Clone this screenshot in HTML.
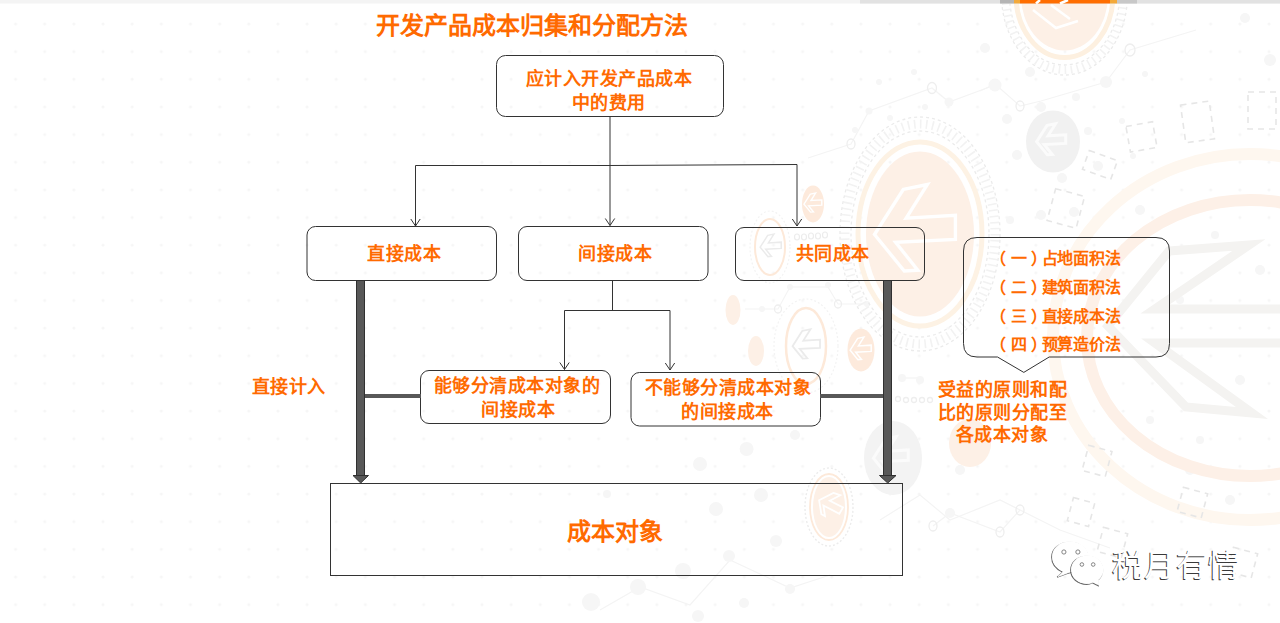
<!DOCTYPE html>
<html lang="zh-CN">
<head>
<meta charset="utf-8">
<style>
html,body{margin:0;padding:0;}
body{width:1280px;height:623px;overflow:hidden;background:#fff;position:relative;font-family:"Liberation Sans",sans-serif;}
#bg{position:absolute;left:0;top:0;}
.c{font-size:16px;}
.t{position:absolute;text-spacing-trim:space-all;color:#ff6a00;font-weight:bold;white-space:nowrap;line-height:1;}
</style>
</head>
<body>
<svg id="bg" width="1280" height="623" viewBox="0 0 1280 623">
  <defs>
    <pattern id="dots" x="1.0" y="10.08" width="29.15" height="27.65" patternUnits="userSpaceOnUse">
      <circle cx="14.575" cy="13.825" r="1.5" fill="#f6f6f6"/>
    </pattern>
  </defs>
  <rect x="0" y="0" width="1280" height="623" fill="url(#dots)"/>
  <!-- network lines -->
  <g stroke="#f4f4f4" stroke-width="1.2" fill="none">
    <path d="M808 158L851 144L869 111L932 88L949 102L995 85"/>
    <path d="M980 91L995 84L1020 106L1041 101L1106 82L1130 50L1196 30"/>
    <path d="M745 309H778L790 287H828L838 304H870"/>
    <path d="M902 378H920"/>
    <path d="M880 520L920 495L950 520L1000 500L1020 510"/>
    <path d="M600 610L640 587L690 605L730 560L790 588L830 575"/>
    <path d="M933 526L950 513L1000 532L1020 510L1060 530L1110 548"/>
  </g>
  <g fill="none" stroke="#eeeeee" stroke-width="1.3">
    <ellipse cx="851" cy="144" rx="4" ry="5"/><ellipse cx="932" cy="88" rx="4.5" ry="5.5"/>
    <ellipse cx="1020" cy="106" rx="4" ry="5"/><ellipse cx="1130" cy="50" rx="5" ry="6"/>
    <ellipse cx="778" cy="309" rx="3.5" ry="4"/><ellipse cx="838" cy="304" rx="3.5" ry="4"/>
    <ellipse cx="933" cy="526" rx="4" ry="5"/><ellipse cx="1000" cy="532" rx="4" ry="5"/><ellipse cx="1020" cy="510" rx="4" ry="5"/>
    <circle cx="898" cy="399" r="2.5"/><circle cx="906" cy="400" r="2.5"/><circle cx="914" cy="400" r="2.5"/><circle cx="922" cy="400" r="2.5"/><circle cx="930" cy="400" r="2.5"/>
  </g>
  <g fill="#f6f6f6">
    <circle cx="869" cy="111" r="3.5"/><circle cx="949" cy="102" r="4.5"/><circle cx="995" cy="85" r="6.5"/>
    <circle cx="1106" cy="82" r="6"/><circle cx="985" cy="48" r="5"/><circle cx="1030" cy="72" r="5"/>
    <circle cx="1041" cy="107" r="5"/><circle cx="1076" cy="97" r="4"/><circle cx="1007" cy="119" r="5"/>
    <circle cx="1017" cy="155" r="5"/><circle cx="1062" cy="178" r="5"/><circle cx="1088" cy="131" r="4"/>
    <circle cx="1122" cy="121" r="3"/><circle cx="1145" cy="74" r="3"/><circle cx="1041" cy="215" r="5"/>
    <circle cx="1010" cy="220" r="4"/><circle cx="1074" cy="212" r="5"/><circle cx="1133" cy="156" r="3"/>
    <circle cx="1098" cy="166" r="5"/><circle cx="914" cy="72" r="3"/><circle cx="879" cy="82" r="3"/>
    <circle cx="890" cy="118" r="3"/><circle cx="925" cy="107" r="3"/><circle cx="855" cy="130" r="3"/>
    <circle cx="762" cy="309" r="3"/><circle cx="790" cy="287" r="3"/><circle cx="828" cy="285" r="3"/><circle cx="867" cy="304" r="3"/>
    <circle cx="902" cy="378" r="4"/><circle cx="920" cy="380" r="4"/>
    <circle cx="700" cy="464" r="7"/><circle cx="746.6" cy="449" r="7"/><circle cx="795" cy="435" r="5"/>
    <circle cx="716" cy="509" r="7"/><circle cx="761" cy="495" r="7"/><circle cx="638" cy="587" r="8"/><circle cx="744" cy="603" r="5"/><circle cx="698" cy="616" r="6"/><circle cx="607" cy="494" r="4"/>
    <circle cx="591" cy="602" r="9"/><circle cx="683" cy="571" r="8"/><circle cx="790" cy="589" r="5"/>
    <circle cx="729" cy="556" r="6"/><circle cx="776" cy="541" r="6"/><circle cx="960" cy="470" r="5"/>
    <circle cx="950" cy="513" r="5"/><circle cx="1190" cy="470" r="5"/><circle cx="1240" cy="380" r="5"/>
    <circle cx="1180" cy="300" r="4"/><circle cx="1140" cy="210" r="5"/><circle cx="1270" cy="60" r="6"/>
    <circle cx="1245" cy="18" r="5"/><circle cx="1215" cy="235" r="4"/><circle cx="1260" cy="270" r="5"/>
    <circle cx="1200" cy="440" r="4"/><circle cx="1230" cy="500" r="5"/><circle cx="1150" cy="420" r="4"/>
  </g>
  <!-- big ring lower right -->
  <ellipse cx="1250" cy="337" rx="197" ry="183" fill="none" stroke="#fef7ef" stroke-width="12"/>
  <ellipse cx="1250" cy="338" rx="163" ry="138" fill="none" stroke="#fdf0e7" stroke-width="12"/>
  <path d="M1169 251L1249 245L1155 309H1290V343H1155L1252 413L1186 407L1108 326Z" fill="none" stroke="#f4f3f1" stroke-width="9" stroke-linejoin="miter"/>
  <!-- ellipse A big peach -->
  <g>
    <ellipse cx="920" cy="234" rx="69" ry="103" fill="none" stroke="#ebebeb" stroke-width="1.3" stroke-dasharray="3 3"/>
    <ellipse cx="920" cy="234" rx="75" ry="110" fill="none" stroke="#f2f2f2" stroke-width="9" stroke-dasharray="1.6 4.5"/>
    <ellipse cx="920" cy="234" rx="80" ry="117" fill="none" stroke="#ebebeb" stroke-width="1.3" stroke-dasharray="3 3"/>
    <ellipse cx="920" cy="234" rx="62" ry="92" fill="none" stroke="#fdf2e4" stroke-width="5"/>
    <ellipse cx="920" cy="234" rx="54" ry="82.5" fill="#fdf0e6"/>
    <path d="M-16.6 -44.7L7.4 -49.5L-13.8 -15.8L35.4 -18.7L35.4 5.4L-24.4 8.3L-2.2 36.2L-15.7 37L-45.5 0.5Z" transform="translate(920 234) scale(1)" fill="none" stroke="#fff" stroke-width="3.40" stroke-linejoin="miter"/>
  </g>
  <!-- ellipse B top peach -->
  <g>
    <ellipse cx="1064.5" cy="-5" rx="55" ry="70" fill="none" stroke="#ebebeb" stroke-width="1.3" stroke-dasharray="3 3"/>
    <ellipse cx="1064.5" cy="-5" rx="59" ry="75" fill="none" stroke="#f2f2f2" stroke-width="8" stroke-dasharray="1.6 4.5"/>
    <ellipse cx="1064.5" cy="-5" rx="63" ry="80" fill="none" stroke="#ebebeb" stroke-width="1.3" stroke-dasharray="3 3"/>
    <ellipse cx="1064.5" cy="-5" rx="48.5" ry="62.5" fill="none" stroke="#fdf0e0" stroke-width="5"/>
    <ellipse cx="1064.5" cy="-5" rx="43.5" ry="55.5" fill="#fdf0e6"/>
    <path d="M1033 10L1056 28L1078 21M1051 5L1070 19" fill="none" stroke="#fff" stroke-width="2.6"/>
  </g>
  <!-- gray ellipse C -->
  <ellipse cx="1053" cy="141.5" rx="27" ry="31" fill="#f1f1f1"/>
  <path d="M-16.6 -44.7L7.4 -49.5L-13.8 -15.8L35.4 -18.7L35.4 5.4L-24.4 8.3L-2.2 36.2L-15.7 37L-45.5 0.5Z" transform="translate(1053 141.5) scale(0.36)" fill="none" stroke="#fbfbfb" stroke-width="8.3" stroke-linejoin="miter"/>
  <!-- gray ellipse D -->
  <ellipse cx="893" cy="458" rx="29" ry="37" fill="#f3f3f3"/>
  <path d="M-16.6 -44.7L7.4 -49.5L-13.8 -15.8L35.4 -18.7L35.4 5.4L-24.4 8.3L-2.2 36.2L-15.7 37L-45.5 0.5Z" transform="translate(893 458) scale(0.43)" fill="none" stroke="#fbfbfb" stroke-width="7" stroke-linejoin="miter"/>
  <!-- small peach ellipses -->
  <ellipse cx="813" cy="204" rx="11" ry="18.5" fill="#fdeadc"/>
  <path d="M-16.6 -44.7L7.4 -49.5L-13.8 -15.8L35.4 -18.7L35.4 5.4L-24.4 8.3L-2.2 36.2L-15.7 37L-45.5 0.5Z" transform="translate(814 204) scale(0.22)" fill="none" stroke="#fff" stroke-width="6.36" stroke-linejoin="miter"/>
  <ellipse cx="733" cy="310" rx="7.5" ry="15" fill="#fdf0e6"/>
  <ellipse cx="756" cy="351" rx="8" ry="15" fill="#fdf0e6"/>
  <ellipse cx="861" cy="350" rx="13.5" ry="21.5" fill="#fdeadc"/>
  <path d="M-16.6 -44.7L7.4 -49.5L-13.8 -15.8L35.4 -18.7L35.4 5.4L-24.4 8.3L-2.2 36.2L-15.7 37L-45.5 0.5Z" transform="translate(862 350) scale(0.26)" fill="none" stroke="#fff" stroke-width="5.77" stroke-linejoin="miter"/>
  <!-- ring icons -->
  <ellipse cx="770" cy="247" rx="20" ry="36" fill="none" stroke="#f3f3f3" stroke-width="1.2" stroke-dasharray="2 2"/>
  <ellipse cx="770" cy="247" rx="15" ry="28" fill="none" stroke="#fde9d9" stroke-width="2"/>
  <path d="M-16.6 -44.7L7.4 -49.5L-13.8 -15.8L35.4 -18.7L35.4 5.4L-24.4 8.3L-2.2 36.2L-15.7 37L-45.5 0.5Z" transform="translate(772 247) scale(0.26)" fill="none" stroke="#ebebeb" stroke-width="5.77" stroke-linejoin="miter"/>
  <ellipse cx="806" cy="346" rx="32" ry="47" fill="none" stroke="#f3f3f3" stroke-width="1.2" stroke-dasharray="2 2"/>
  <ellipse cx="806" cy="346" rx="20" ry="38" fill="none" stroke="#fde9d9" stroke-width="2.5"/>
  <path d="M-16.6 -44.7L7.4 -49.5L-13.8 -15.8L35.4 -18.7L35.4 5.4L-24.4 8.3L-2.2 36.2L-15.7 37L-45.5 0.5Z" transform="translate(808 346) scale(0.34)" fill="none" stroke="#ebebeb" stroke-width="5.29" stroke-linejoin="miter"/>
  <!-- ellipse E in bottom box -->
  <ellipse cx="829" cy="507" rx="24" ry="39" fill="none" stroke="#ececec" stroke-width="1.4" stroke-dasharray="2 2"/>
  <ellipse cx="829" cy="507" rx="19" ry="33" fill="none" stroke="#fde9d9" stroke-width="1.8"/>
  <ellipse cx="829" cy="507" rx="16" ry="30" fill="#fdf0e6"/>
  <path d="M-16.6 -44.7L7.4 -49.5L-13.8 -15.8L35.4 -18.7L35.4 5.4L-24.4 8.3L-2.2 36.2L-15.7 37L-45.5 0.5Z" transform="translate(831 507) rotate(30) scale(0.3)" fill="none" stroke="#fff" stroke-width="6"/>
  <!-- dashed bracket squares -->
  <g fill="none" stroke="#e6e6e6" stroke-width="1.6" stroke-dasharray="6 5">
    <rect x="1128" y="124" width="27" height="26" transform="rotate(-10 1141 137)"/>
    <rect x="1183" y="103" width="29" height="38" transform="rotate(-8 1197 122)"/>
    <rect x="1248" y="92" width="28" height="37"/>
    <rect x="1085" y="155" width="30" height="20" transform="rotate(20 1100 165)"/>
    <rect x="1051" y="192" width="30" height="33" transform="rotate(15 1066 208)"/>
    <rect x="1100" y="530" width="25" height="25" transform="rotate(15 1112 542)"/>
    <rect x="1180" y="490" width="25" height="25" transform="rotate(15 1192 502)"/>
    <rect x="1230" y="550" width="25" height="25" transform="rotate(15 1242 562)"/>
    <rect x="1085" y="448" width="24" height="26" transform="rotate(15 1097 461)"/>
    <rect x="1070" y="500" width="22" height="24" transform="rotate(15 1081 512)"/>
  </g>
  <g fill="none" stroke="#ececec" stroke-width="1.2">
    <ellipse cx="797" cy="237" rx="2.5" ry="3"/><ellipse cx="804" cy="237" rx="2.5" ry="3"/><ellipse cx="811" cy="236" rx="2.5" ry="3"/><ellipse cx="818" cy="236" rx="2.5" ry="3"/><ellipse cx="825" cy="235" rx="2.5" ry="3"/>
  </g>
  <!-- peach M -->
  <ellipse cx="970" cy="443" rx="21" ry="24" fill="#fdf0e6"/>
  <!-- top strip -->
  <rect x="0" y="0" width="1280" height="3.5" fill="#f4f4f4"/>
  <rect x="860" y="0" width="420" height="3.5" fill="#e2e2e2"/>
  <rect x="1000" y="0" width="14" height="3.5" fill="#b5b5b5"/>
  <rect x="1014" y="0" width="6" height="3.5" fill="#f3a93a"/>
  <rect x="1020" y="0" width="90" height="3.5" fill="#ff6d00"/>
  <rect x="1110" y="0" width="7" height="3.5" fill="#f3a93a"/>
  <rect x="1117" y="0" width="20" height="3.5" fill="#c8c8c8"/>
  <path d="M1040 0L1036 3.5M1068 0L1060 3.5" stroke="#fff" stroke-width="2.5"/>
  <!-- diagram lines -->
  <g fill="none" stroke="#333" stroke-width="1">
    <rect x="496.5" y="55.5" width="227" height="61" rx="9"/>
    <rect x="307" y="226.5" width="189.5" height="54" rx="8.5"/>
    <rect x="518.5" y="226.5" width="189.5" height="54" rx="8.5"/>
    <rect x="735.5" y="227.5" width="189" height="53" rx="8.5"/>
    <rect x="420.5" y="370.5" width="190" height="53" rx="8.5"/>
    <rect x="631" y="372.5" width="189.5" height="53.5" rx="8.5"/>
    <rect x="330.5" y="483.5" width="572" height="92"/>
    <!-- connectors -->
    <path d="M610 116.5V225.5M415.5 165.5H610L797 164.5V226"/>
    <path d="M415.5 165.5V226"/>
    <path d="M612.5 280.5V310.5M564.5 310.5H670V370M564.5 310.5V369.5"/>
    <!-- arrowheads -->
    <path d="M410.8 219L415.5 226L420.2 219M605.3 218.5L610 225.5L614.7 218.5M792.3 219L797 226L801.7 219"/>
    <path d="M559.8 362.5L564.5 369.5L569.2 362.5M665.3 363L670 370L674.7 363"/>
    <!-- callout -->
    <path d="M977 237.5H1156Q1169.5 237.5 1169.5 251V343.5Q1169.5 357 1156 357H1049.2L1023.8 372.4L997.5 357H977Q963.5 357 963.5 343.5V251Q963.5 237.5 977 237.5Z"/>
  </g>
  <!-- thick bars -->
  <g fill="#585858">
    <rect x="364" y="394" width="57" height="4"/>
    <rect x="820" y="394" width="64" height="4"/>
  </g>
  <g fill="#585858" stroke="#303030" stroke-width="1">
    <rect x="356.5" y="280.5" width="8" height="195"/>
    <path d="M353 475.5H368.5L360.7 483Z"/>
    <rect x="883.5" y="280.5" width="8" height="195"/>
    <path d="M879.5 475.5H896L887.7 483Z"/>
  </g>
</svg>

<div class="t" style="left:376px;top:14px;font-size:24px;">开发产品成本归集和分配方法</div>
<div class="t" style="left:525.5px;top:69.5px;font-size:18px;letter-spacing:0.5px;">应计入开发产品成本</div>
<div class="t" style="left:571.5px;top:93.5px;font-size:18px;letter-spacing:0.5px;">中的费用</div>
<div class="t" style="left:367px;top:245px;font-size:18px;letter-spacing:0.5px;">直接成本</div>
<div class="t" style="left:578px;top:245px;font-size:18px;letter-spacing:0.5px;">间接成本</div>
<div class="t" style="left:795.5px;top:245px;font-size:18px;letter-spacing:0.5px;">共同成本</div>
<div class="t" style="left:433.5px;top:377px;font-size:18px;letter-spacing:0.5px;">能够分清成本对象的</div>
<div class="t" style="left:481px;top:401px;font-size:18px;letter-spacing:0.5px;">间接成本</div>
<div class="t" style="left:644.5px;top:379px;font-size:18px;letter-spacing:0.5px;">不能够分清成本对象</div>
<div class="t" style="left:681px;top:403px;font-size:18px;letter-spacing:0.5px;">的间接成本</div>
<div class="t" style="left:251.5px;top:378px;font-size:18px;letter-spacing:0.5px;">直接计入</div>
<div class="t" style="left:566.5px;top:520px;font-size:24px;">成本对象</div>
<div class="t" style="left:937.5px;top:380.5px;font-size:18px;letter-spacing:0.5px;">受益的原则和配</div>
<div class="t" style="left:937.5px;top:403.5px;font-size:18px;letter-spacing:0.5px;">比的原则分配至</div>
<div class="t" style="left:955.5px;top:426px;font-size:18px;letter-spacing:0.5px;">各成本对象</div>
<div class="t c" style="left:990px;top:250.5px;">（</div><div class="t c" style="left:1011px;top:250.5px;">一</div><div class="t c" style="left:1031px;top:250.5px;">）</div><div class="t c" style="left:1041.5px;top:250.5px;letter-spacing:-0.2px;">占地面积法</div>
<div class="t c" style="left:990px;top:280px;">（</div><div class="t c" style="left:1011px;top:280px;">二</div><div class="t c" style="left:1031px;top:280px;">）</div><div class="t c" style="left:1041.5px;top:280px;letter-spacing:-0.2px;">建筑面积法</div>
<div class="t c" style="left:990px;top:308.75px;">（</div><div class="t c" style="left:1011px;top:308.75px;">三</div><div class="t c" style="left:1031px;top:308.75px;">）</div><div class="t c" style="left:1041.5px;top:308.75px;letter-spacing:-0.2px;">直接成本法</div>
<div class="t c" style="left:990px;top:337.2px;">（</div><div class="t c" style="left:1011px;top:337.2px;">四</div><div class="t c" style="left:1031px;top:337.2px;">）</div><div class="t c" style="left:1041.5px;top:337.2px;letter-spacing:-0.2px;">预算造价法</div>
<svg style="position:absolute;left:0;top:0" width="1280" height="623" viewBox="0 0 1280 623">
  <path d="M1063.5 571.5C1056 568 1052.5 562.5 1052.5 556.5C1052.5 547.5 1060.5 541.5 1070.5 541.5C1080.5 541.5 1088.5 548 1088.5 556.5C1088.5 564.5 1081 571.5 1071 571.8C1069 572.3 1067.5 572.8 1066 573.5L1058 576.5Z" transform="translate(-0.8 0.8)" fill="none" stroke="#444" stroke-width="1.2" opacity="0.8"/>
  <path d="M1063.5 571.5C1056 568 1052.5 562.5 1052.5 556.5C1052.5 547.5 1060.5 541.5 1070.5 541.5C1080.5 541.5 1088.5 548 1088.5 556.5C1088.5 564.5 1081 571.5 1071 571.8C1069 572.3 1067.5 572.8 1066 573.5L1058 576.5Z" fill="#fff" stroke="#fff" stroke-width="0.8"/>
  <path d="M1087.5 555.5C1096.5 555.5 1103.5 561.5 1103.5 569.5C1103.5 573.5 1101.5 577 1098.5 579.5L1099 585L1093 582C1091.5 583 1089.5 583.5 1087.5 583.5C1078.5 583.5 1071.5 577.5 1071.5 569.5C1071.5 561.5 1078.5 555.5 1087.5 555.5Z" transform="translate(-0.8 0.8)" fill="none" stroke="#444" stroke-width="1.2" opacity="0.8"/>
  <path d="M1087.5 555.5C1096.5 555.5 1103.5 561.5 1103.5 569.5C1103.5 573.5 1101.5 577 1098.5 579.5L1099 585L1093 582C1091.5 583 1089.5 583.5 1087.5 583.5C1078.5 583.5 1071.5 577.5 1071.5 569.5C1071.5 561.5 1078.5 555.5 1087.5 555.5Z" fill="#fff" stroke="#fff" stroke-width="0.8"/>
  <g fill="#fff" stroke="#777" stroke-width="0.9">
    <circle cx="1063.9" cy="552" r="2.1"/><circle cx="1077.9" cy="552" r="2.1"/>
    <circle cx="1081.9" cy="564.5" r="1.8"/><circle cx="1093.2" cy="564.5" r="1.8"/>
  </g>
</svg>
<div style="position:absolute;left:1112px;top:550px;font-size:31px;line-height:1;color:#fff;font-weight:300;letter-spacing:1px;text-shadow:-1.4px 1.4px 0 #3a3a3a;white-space:nowrap;">税月有情</div>
</body>
</html>
